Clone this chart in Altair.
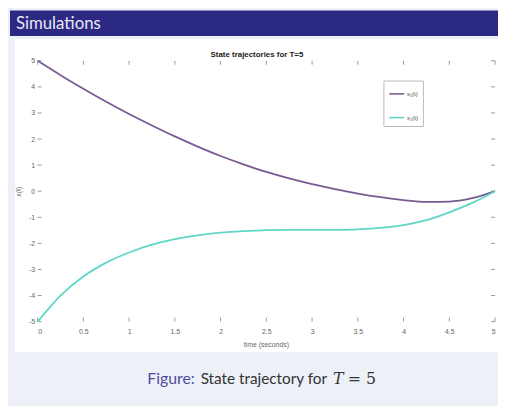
import altair as alt
import pandas as pd

# ---- data ----
t_vals = [0, 0.25, 0.5, 0.75, 1.0, 1.25, 1.5, 1.75, 2.0, 2.25, 2.5,
          2.75, 3.0, 3.25, 3.5, 3.75, 4.0, 4.25, 4.5, 4.75, 5.0]
x1_vals = [5.0, 4.45, 3.93, 3.43, 2.96, 2.52, 2.10, 1.71, 1.35, 1.03, 0.74,
           0.49, 0.27, 0.08, -0.09, -0.23, -0.34, -0.41, -0.40, -0.27, 0.0]
x2_vals = [-5.0, -4.0, -3.27, -2.74, -2.35, -2.05, -1.84, -1.69, -1.59, -1.53, -1.49,
           -1.48, -1.48, -1.48, -1.46, -1.41, -1.30, -1.11, -0.81, -0.45, 0.0]
series_names = ["x\u2081(t)", "x\u2082(t)"]
series_colors = ["#7a5a94", "#5fd6c6"]
x_ticks = [0, 0.5, 1, 1.5, 2, 2.5, 3, 3.5, 4, 4.5, 5]
y_ticks = [-5, -4, -3, -2, -1, 0, 1, 2, 3, 4, 5]

W, H = 463, 264

rows = []
for t, a, b in zip(t_vals, x1_vals, x2_vals):
    rows.append({"t": t, "v": a, "series": series_names[0]})
    rows.append({"t": t, "v": b, "series": series_names[1]})
df = pd.DataFrame(rows)
dummy = pd.DataFrame({"d": [0]})

LABEL_FONT = "Liberation Sans"
GRAY = "#666666"

x_scale = alt.Scale(domain=[0, 5], nice=False)
y_scale = alt.Scale(domain=[-5, 5], nice=False)
x_axis = alt.Axis(values=x_ticks, labelExpr="datum.value + ''", ticks=False,
                  domain=False, grid=False, labelFont=LABEL_FONT, labelFontSize=7,
                  labelColor=GRAY, labelPadding=6, labelOverlap=False,
                  title="time (seconds)",
                  titleFont=LABEL_FONT, titleFontSize=7, titleFontWeight="normal",
                  titleColor=GRAY, titleX=231, titleY=19, zindex=1)
y_axis = alt.Axis(values=y_ticks, labelExpr="datum.value + ''", ticks=False,
                  domain=False, grid=False, labelFont=LABEL_FONT, labelFontSize=7,
                  labelColor=GRAY, labelPadding=3, labelOverlap=False,
                  title="x(t)",
                  titleFont=LABEL_FONT, titleFontSize=7, titleFontWeight="normal",
                  titleColor=GRAY, titleX=-16, titleY=132, zindex=1)

# ---- slide decoration ----
banner = alt.Chart(dummy).mark_rect(color="#2c2984").encode(
    x=alt.value(-28), x2=alt.value(475), y=alt.value(-51), y2=alt.value(-25))
banner_text = alt.Chart(dummy).mark_text(
    text="Simulations", align="left", baseline="alphabetic", font="Lato",
    fontSize=17, color="#e8e8f4").encode(x=alt.value(-22), y=alt.value(-32))
white_panel = alt.Chart(dummy).mark_rect(color="white").encode(
    x=alt.value(-23), x2=alt.value(475), y=alt.value(-22), y2=alt.value(295))
plot_title = alt.Chart(dummy).mark_text(
    text="State trajectories for T=5", align="center", baseline="alphabetic",
    font=LABEL_FONT, fontSize=8, fontWeight="bold", color="#222222").encode(
    x=alt.value(222), y=alt.value(-4))

cap_fig = alt.Chart(dummy).mark_text(
    text="Figure:", align="right", baseline="alphabetic", font="Lato",
    fontSize=16, color="#4f4f9e").encode(x=alt.value(159), y=alt.value(327))
cap_main = alt.Chart(dummy).mark_text(
    text="State trajectory for", align="left", baseline="alphabetic", font="Lato",
    fontSize=15.5, color="#333333").encode(x=alt.value(165), y=alt.value(327))
cap_T = alt.Chart(dummy).mark_text(
    text="T", align="left", baseline="alphabetic", font="DejaVu Serif",
    fontStyle="italic", fontSize=16, color="#333333").encode(x=alt.value(299), y=alt.value(327))
cap_eq = alt.Chart(dummy).mark_text(
    text="= 5", align="left", baseline="alphabetic", font="DejaVu Serif",
    fontSize=16, color="#333333").encode(x=alt.value(314), y=alt.value(327))

# ---- main lines ----
lines = alt.Chart(df).mark_line(strokeWidth=1.8, interpolate="monotone").encode(
    x=alt.X("t:Q", scale=x_scale, axis=x_axis),
    y=alt.Y("v:Q", scale=y_scale, axis=y_axis),
    color=alt.Color("series:N",
                    scale=alt.Scale(domain=series_names, range=series_colors),
                    legend=alt.Legend(orient="none", legendX=350, legendY=20, title=None,
                                      symbolType="stroke", symbolSize=225,
                                      symbolStrokeWidth=1.6, labelFontSize=6,
                                      labelFont=LABEL_FONT, labelColor="#444444",
                                      labelOffset=2, strokeColor="#bbbbbb",
                                      fillColor="white", padding=5, rowPadding=12)),
)

# ---- inward MATLAB-style ticks ----
xt = pd.DataFrame({"t": x_ticks})
yt = pd.DataFrame({"v": y_ticks})
tick_style = dict(color="#999999", strokeWidth=1)
xt_top = alt.Chart(xt).mark_rule(**tick_style).encode(
    x=alt.X("t:Q", scale=x_scale, axis=x_axis), y=alt.value(0), y2=alt.value(4))
xt_bot = alt.Chart(xt).mark_rule(**tick_style).encode(
    x=alt.X("t:Q", scale=x_scale, axis=x_axis), y=alt.value(H), y2=alt.value(H - 4))
yt_left = alt.Chart(yt).mark_rule(**tick_style).encode(
    y=alt.Y("v:Q", scale=y_scale, axis=y_axis), x=alt.value(0), x2=alt.value(4))
yt_right = alt.Chart(yt).mark_rule(**tick_style).encode(
    y=alt.Y("v:Q", scale=y_scale, axis=y_axis), x=alt.value(W), x2=alt.value(W - 4))

chart = alt.layer(
    banner, banner_text, white_panel, plot_title,
    cap_fig, cap_main, cap_T, cap_eq,
    xt_top, xt_bot, yt_left, yt_right, lines,
).properties(
    width=W, height=H,
    padding={"left": 30, "top": 51, "right": 3, "bottom": 83},
    autosize="none",
    background="#eef0f8",
).configure_view(stroke="#aaaaaa", strokeWidth=1, fill="white")

chart.save("out.html", embed_options={"renderer": "svg", "actions": False})
